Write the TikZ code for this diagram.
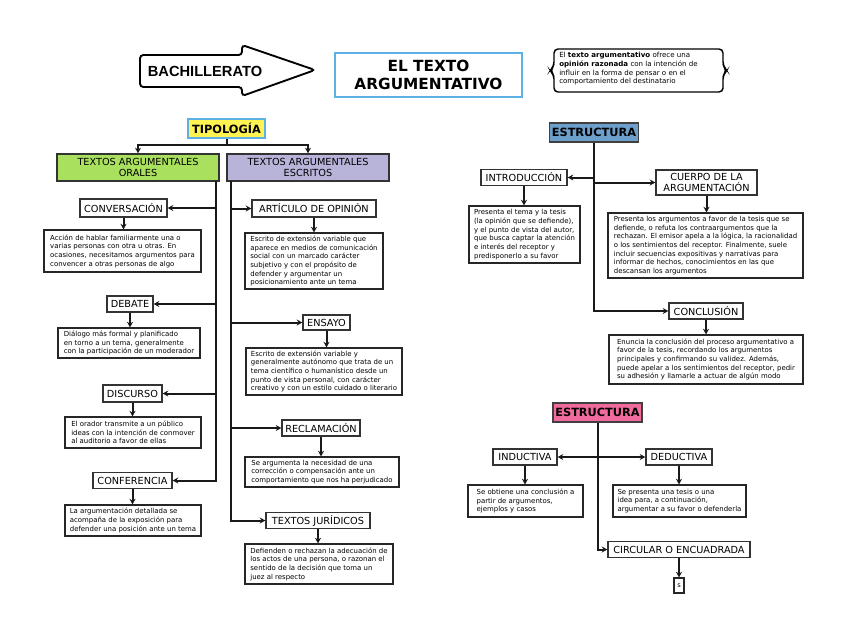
\documentclass[tikz,border=0pt]{standalone}
\usepackage{fontspec}
\setmainfont{DejaVu Sans}
\newfontfamily\libsans{Liberation Sans}
\usetikzlibrary{arrows.meta,calc}
\definecolor{gr}{HTML}{A9E05E}
\definecolor{lav}{HTML}{B8B3D8}
\definecolor{yel}{HTML}{FFF352}
\definecolor{blu}{HTML}{6C9FCC}
\definecolor{pnk}{HTML}{F06A9D}
\definecolor{lb}{HTML}{5BB1E4}
\begin{document}
\begin{tikzpicture}[x=0.75pt,y=-0.75pt,
  sz/.style 2 args={minimum width=#1*0.75pt,minimum height=#2*0.75pt},
  lbl/.style={draw=black!80,line width=1pt,fill=white,inner sep=1pt,font=\fontsize{7.3}{8}\selectfont,align=center},
  desc/.style={draw=black!85,line width=0.9pt,fill=white,inner sep=1.5pt,align=left,font=\fontsize{5.2}{6.5}\selectfont},
  hdr/.style={draw=black!75,line width=1.1pt,inner sep=1pt,font=\bfseries\fontsize{8.5}{10}\selectfont},
  con/.style={line width=1.5pt,draw=black!90},
  arr/.style={con,-{Stealth[length=4.2pt,width=4.5pt]}},
  arrb/.style={con,{Stealth[length=4.2pt,width=4.5pt]}-{Stealth[length=4.2pt,width=4.5pt]}},
]
\useasboundingbox[fill=white] (0,0) rectangle (848,637);

% header
\draw[line width=1.4pt,rounded corners=2.5pt] (242,55) -- (140,55) -- (140,87) -- (242,87) -- (242,96) -- (315,70) -- (242,45) -- cycle;
\node[font=\libsans\bfseries\fontsize{11}{13}\selectfont] (bach) at (205,71) {BACHILLERATO};
\node[draw=lb,line width=1.1pt,sz={187}{44},align=center,font=\bfseries\fontsize{11.5}{13.5}\selectfont] (title) at (428.5,75) {EL TEXTO\\ARGUMENTATIVO};
\draw[line width=1.1pt,rounded corners=3pt] (640,49) -- (723,49) -- (723,66) -- (727,70.5) -- (723,75) -- (723,92) -- (554,92) -- (554,75) -- (550,70.5) -- (554,66) -- (554,49) -- cycle;
\node[align=left,inner sep=0,font=\fontsize{5.3}{6.5}\selectfont] (def) at (628.5,69) {El \textbf{texto argumentativo} ofrece una\\\textbf{opinión razonada} con la intención de\\influir en la forma de pensar o en el\\comportamiento del destinatario};

% tipologia
\node[hdr,draw=lb,fill=yel,sz={77}{19}] (tipo) at (226.5,128.5) {TIPOLOGÍA};
\node[lbl,fill=gr,line width=1.1pt,sz={162}{27}] (orales) at (138,167.5) {TEXTOS ARGUMENTALES\\ORALES};
\node[lbl,fill=lav,line width=1.1pt,sz={162}{27}] (escritos) at (308,167.5) {TEXTOS ARGUMENTALES\\ESCRITOS};
\coordinate (tj) at (226.5,145);
\draw[con] (tipo.south) -- (tj);
\draw[arr] (tj) -| (orales.north);
\draw[arr] (tj) -| (escritos.north);

% left column
\node[lbl,sz={87}{18}] (conv) at (123.5,208) {CONVERSACIÓN};
\node[desc,sz={157}{42}] (convd) at (122.5,251) {Acción de hablar familiarmente una o\\varias personas con otra u otras. En\\ocasiones, necesitamos argumentos para\\convencer a otras personas de algo};
\node[lbl,sz={46}{16}] (debate) at (130,304) {DEBATE};
\node[desc,sz={142}{30}] (debd) at (129,343) {Diálogo más formal y planificado\\en torno a un tema, generalmente\\con la participación de un moderador};
\node[lbl,sz={59}{17}] (disc) at (132.5,393.5) {DISCURSO};
\node[desc,sz={136}{31}] (discd) at (133,432.5) {El orador transmite a un público\\ideas con la intención de conmover\\al auditorio a favor de ellas};
\node[lbl,sz={79}{16}] (conf) at (132.5,480.5) {CONFERENCIA};
\node[desc,sz={136}{31}] (confd) at (133,520.5) {La argumentación detallada se\\acompaña de la exposición para\\defender una posición ante un tema};

% right column
\node[lbl,sz={124}{17}] (art) at (314,208.5) {ARTÍCULO DE OPINIÓN};
\node[desc,sz={138}{56}] (artd) at (314,261) {Escrito de extensión variable que\\aparece en medios de comunicación\\social con un marcado carácter\\subjetivo y con el propósito de\\defender y argumentar un\\posicionamiento ante un tema};
\node[lbl,sz={47}{15}] (ensayo) at (326.5,322.5) {ENSAYO};
\node[desc,sz={156}{47}] (ensd) at (324,371.5) {Escrito de extensión variable y\\generalmente autónomo que trata de un\\tema científico o humanístico desde un\\punto de vista personal, con carácter\\creativo y con un estilo cuidado o literario};
\node[lbl,sz={78}{16}] (recl) at (321,428) {RECLAMACIÓN};
\node[desc,sz={154}{30}] (recld) at (322,472) {Se argumenta la necesidad de una\\corrección o compensación ante un\\comportamiento que nos ha perjudicado};
\node[lbl,sz={104}{16}] (jur) at (318,520.5) {TEXTOS JURÍDICOS};
\node[desc,sz={148}{40}] (jurd) at (319,564) {Defienden o rechazan la adecuación de\\los actos de una persona, o razonan el\\sentido de la decisión que toma un\\juez al respecto};

\coordinate (lt) at (216,181);
\coordinate (rt) at (231,181);
\draw[arr] (lt) |- (conf.east);
\foreach \n in {conv,debate,disc} \draw[arr] (lt |- \n.east) -- (\n.east);
\draw[arr] (rt) |- (jur.west);
\foreach \n in {art,ensayo,recl} \draw[arr] (rt |- \n.west) -- (\n.west);

% estructura 1
\node[hdr,fill=blu,sz={89}{19}] (est1) at (594,132.5) {ESTRUCTURA};
\node[lbl,sz={86}{16}] (intro) at (524,177.5) {INTRODUCCIÓN};
\node[desc,sz={111}{57}] (introd) at (524.5,234.5) {Presenta el tema y la tesis\\(la opinión que se defiende),\\y el punto de vista del autor,\\que busca captar la atención\\e interés del receptor y\\predisponerlo a su favor};
\node[lbl,sz={101}{25}] (cuerpo) at (706.5,182.5) {CUERPO DE LA\\ARGUMENTACIÓN};
\node[desc,sz={195}{65}] (cuerpod) at (705.5,245.5) {Presenta los argumentos a favor de la tesis que se\\defiende, o refuta los contraargumentos que la\\rechazan. El emisor apela a la lógica, la racionalidad\\o los sentimientos del receptor. Finalmente, suele\\incluir secuencias expositivas y narrativas para\\informar de hechos, conocimientos en las que\\descansan los argumentos};
\node[lbl,sz={74}{16}] (concl) at (706,311) {CONCLUSIÓN};
\node[desc,sz={194}{49}] (concld) at (706,359.5) {Enuncia la conclusión del proceso argumentativo a\\favor de la tesis, recordando los argumentos\\principales y confirmando su validez. Además,\\puede apelar a los sentimientos del receptor, pedir\\su adhesión y llamarle a actuar de algún modo};
\draw[arr] (est1.south) |- (concl.west);
\draw[arr] (est1.south |- intro.east) -- (intro.east);
\draw[arr] (est1.south |- cuerpo.west) -- (cuerpo.west);

% estructura 2
\node[hdr,fill=pnk,sz={89}{19}] (est2) at (597.5,412.5) {ESTRUCTURA};
\node[lbl,sz={64}{16}] (induc) at (525,457) {INDUCTIVA};
\node[desc,sz={115}{32}] (inducd) at (525.5,501) {Se obtiene una conclusión a\\partir de argumentos,\\ejemplos y casos};
\node[lbl,sz={66}{16}] (deduc) at (679,457) {DEDUCTIVA};
\node[desc,sz={133}{32}] (deducd) at (679.5,501) {Se presenta una tesis o una\\idea para, a continuación,\\argumentar a su favor o defenderla};
\node[lbl,sz={142}{16}] (circ) at (679,549.5) {CIRCULAR O ENCUADRADA};
\node[draw=black!85,line width=0.9pt,sz={10}{15},inner sep=0,font=\fontsize{5}{6}\selectfont] (s) at (679,585.5) {s};
\draw[arr] (est2.south) |- (circ.west);
\draw[arrb] (induc.east) -- (deduc.west);

% downward arrows
\foreach \a/\b in {conv/convd,debate/debd,disc/discd,conf/confd,art/artd,ensayo/ensd,recl/recld,jur/jurd,intro/introd,cuerpo/cuerpod,concl/concld,induc/inducd,deduc/deducd,circ/s}
  \draw[arr] (\a) -- (\a |- \b.north);
\end{tikzpicture}
\end{document}
